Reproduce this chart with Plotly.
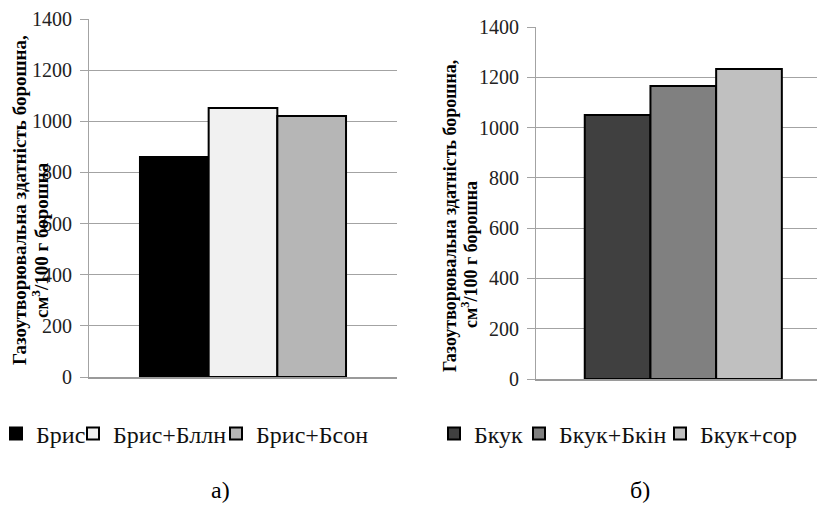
import plotly.graph_objects as go

# Page is rendered with an 8px body margin; work in reference pixel coords
OX, OY = 8, 8
W, H = 817, 498

# Data
left_names = ["Брис", "Брис+Бллн", "Брис+Бсон"]
left_values = [860, 1052, 1021]
right_names = ["Бкук", "Бкук+Бкін", "Бкук+сор"]
right_values = [1050, 1165, 1233]
y_ticks = [0, 200, 400, 600, 800, 1000, 1200, 1400]
y_title_1 = "Газоутворювальна здатність борошна,"
y_title_2 = "см<sup>3</sup>/100 г борошна"
panel_labels = ["а)", "б)"]

left_colors = ["#000000", "#f1f1f1", "#b6b6b6"]
right_colors = ["#404040", "#808080", "#c0c0c0"]

FONT = "Liberation Serif"

def px(x):
    return (x - OX) / W

def py(y):
    return 1 - (y - OY) / H

fig = go.Figure()

# legend text start targets (reference pixels)
left_leg_x = [39, 116, 259]
right_leg_x = [477, 562, 703]

for i, (n, v, c) in enumerate(zip(left_names, left_values, left_colors)):
    fig.add_trace(go.Bar(
        x=["a"], y=[v], name=n, xaxis="x", yaxis="y", showlegend=True,
        marker=dict(color=c, line=dict(color="#000000", width=2)),
        legend="legend" if i == 0 else f"legend{i+1}",
    ))
for i, (n, v, c) in enumerate(zip(right_names, right_values, right_colors)):
    fig.add_trace(go.Bar(
        x=["b"], y=[v], name=n, xaxis="x2", yaxis="y2", showlegend=True,
        marker=dict(color=c, line=dict(color="#000000", width=2)),
        legend=f"legend{i+4}",
    ))

legends = {}
for i, tx in enumerate(left_leg_x + right_leg_x):
    key = "legend" if i == 0 else f"legend{i+1}"
    legends[key] = dict(
        x=px(tx - 43), xanchor="left", y=py(434), yanchor="middle",
        orientation="h", font=dict(family=FONT, size=24, color="#111111"),
        bgcolor="rgba(0,0,0,0)", borderwidth=0, itemclick=False,
        visible=True,
    )

axis_common = dict(
    range=[0, 1400], tickvals=y_ticks, showgrid=True, gridcolor="#a3a3a3", gridwidth=1,
    showline=True, linecolor="#a3a3a3", linewidth=1, ticks="outside", ticklen=8,
    tickcolor="#a3a3a3", tickfont=dict(family=FONT, size=20, color="#222222"),
    ticklabelstandoff=4, ticklabeloverflow="allow",
    zeroline=False, fixedrange=True, automargin=False,
)

fig.update_layout(
    width=W, height=H, margin=dict(l=0, r=0, t=0, b=0, autoexpand=False),
    paper_bgcolor="white", plot_bgcolor="white",
    barmode="group", bargap=0.331, bargroupgap=0,
    showlegend=True,
    xaxis=dict(domain=[px(89), px(397)], range=[-0.5, 0.5], showticklabels=False,
               showgrid=False, ticks="", showline=True, linecolor="#9a9a9a", linewidth=2,
               anchor="y", fixedrange=True, automargin=False),
    yaxis=dict(domain=[py(377), py(19)], anchor="x", **axis_common),
    xaxis2=dict(domain=[px(536), 1.0], range=[-0.5, 0.481], showticklabels=False,
                showgrid=False, ticks="", showline=True, linecolor="#9a9a9a", linewidth=2,
                anchor="y2", fixedrange=True, automargin=False),
    yaxis2=dict(domain=[py(379), py(27)], anchor="x2", **axis_common),
    **legends,
)

ann = [
    dict(text="<b>" + y_title_1 + "</b>", x=px(19), y=py(200), textangle=-90,
         font=dict(family=FONT, size=19, color="#000000")),
    dict(text="<b>" + y_title_2 + "</b>", x=px(40), y=py(240), textangle=-90,
         font=dict(family=FONT, size=19, color="#000000")),
    dict(text="<b>" + y_title_1 + "</b>", x=px(450), y=py(216), textangle=-90,
         font=dict(family=FONT, size=18, color="#000000")),
    dict(text="<b>" + y_title_2 + "</b>", x=px(470), y=py(255), textangle=-90,
         font=dict(family=FONT, size=18, color="#000000")),
    dict(text=panel_labels[0], x=px(221), y=py(490),
         font=dict(family=FONT, size=24, color="#000000")),
    dict(text=panel_labels[1], x=px(640), y=py(490),
         font=dict(family=FONT, size=24, color="#000000")),
]
for a in ann:
    a.update(xref="paper", yref="paper", showarrow=False, xanchor="center", yanchor="middle")
fig.update_layout(annotations=ann)

fig.write_html("out.html")
